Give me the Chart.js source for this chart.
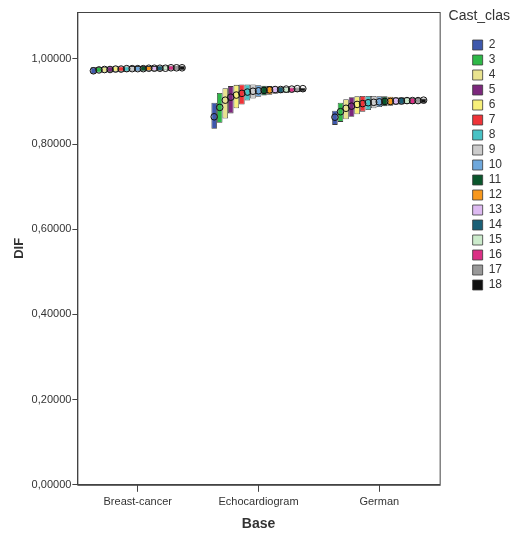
<!DOCTYPE html>
<html lang="en">
<head>
    <meta charset="UTF-8">
    <title>DIF by Base</title>
    <script src="https://cdn.jsdelivr.net/npm/chart.js"></script>
    <style>
        body { margin: 0; background: #fff; }
        #wrap { width: 512px; height: 533px; }
    </style>
</head>
<body>
    <div id="wrap"><canvas id="difChart"></canvas></div>

    <script>
        // categories and classes
        const bases = ['Breast-cancer', 'Echocardiogram', 'German'];
        const classes = ['2','3','4','5','6','7','8','9','10','11','12','13','14','15','16','17','18'];
        const classColors = ['#3E58AC','#2EB848','#E9E38F','#7C287D','#F7F07A','#EF3338','#48C2C5','#CCCCCC',
                             '#6FA8DC','#0A562C','#F8981D','#DDBAF1','#1A5F76','#CCEBCC','#DB2F85','#999999','#111111'];
        const legendTitle = 'Cast_clas';

        // box bottom / top / circle value per class, one set per base
        const breastLow  = [0.965,0.968,0.968,0.969,0.970,0.970,0.970,0.971,0.971,0.971,0.972,0.972,0.972,0.973,0.973,0.973,0.974];
        const breastHigh = [0.980,0.981,0.981,0.982,0.982,0.982,0.982,0.983,0.983,0.983,0.983,0.983,0.984,0.984,0.984,0.984,0.984];
        const breastMid  = [0.972,0.974,0.975,0.975,0.976,0.976,0.977,0.977,0.977,0.977,0.978,0.978,0.978,0.978,0.979,0.979,0.979];

        const echoLow  = [0.836,0.850,0.860,0.872,0.884,0.893,0.902,0.907,0.911,0.914,0.916,0.918,0.919,0.920,0.921,0.922,0.923];
        const echoHigh = [0.897,0.920,0.931,0.936,0.939,0.940,0.940,0.940,0.938,0.937,0.936,0.935,0.934,0.934,0.933,0.933,0.932];
        const echoMid  = [0.864,0.886,0.903,0.910,0.915,0.919,0.922,0.924,0.925,0.926,0.927,0.928,0.928,0.929,0.929,0.930,0.930];

        const germanLow  = [0.845,0.852,0.858,0.864,0.870,0.876,0.880,0.884,0.887,0.889,0.890,0.892,0.893,0.894,0.894,0.895,0.896];
        const germanHigh = [0.878,0.897,0.905,0.910,0.912,0.913,0.913,0.913,0.912,0.912,0.911,0.910,0.910,0.909,0.908,0.908,0.907];
        const germanMid  = [0.863,0.876,0.884,0.889,0.893,0.895,0.897,0.898,0.899,0.900,0.900,0.901,0.901,0.902,0.902,0.902,0.903];

        const yTicks = [0, 0.2, 0.4, 0.6, 0.8, 1.0];

        const FONT = 'Liberation Sans, Arial, sans-serif';

        const datasets = classes.map((c, i) => ({
            label: c,
            data: [
                [breastLow[i], breastHigh[i]],
                [echoLow[i], echoHigh[i]],
                [germanLow[i], germanHigh[i]]
            ],
            mids: [breastMid[i], echoMid[i], germanMid[i]],
            backgroundColor: classColors[i],
            borderColor: '#3a3a3a',
            borderWidth: 0.8,
            borderSkipped: false,
            categoryPercentage: 0.78,
            barPercentage: 1.0
        }));

        // circles on each box, frame round the plot, legend heading
        const overlay = {
            id: 'overlay',
            afterLayout(chart) {
                // gap between plot frame and legend, room for the heading
                const lg = chart.legend;
                lg.left += 30;
                lg.right += 30;
                lg.top += 24;
                lg.bottom += 24;
            },
            afterDatasetsDraw(chart) {
                const ctx = chart.ctx;
                const y = chart.scales.y;
                ctx.save();
                ctx.strokeStyle = '#111';
                ctx.lineWidth = 1;
                chart.data.datasets.forEach((ds, i) => {
                    chart.getDatasetMeta(i).data.forEach((bar, j) => {
                        ctx.beginPath();
                        ctx.arc(bar.x, y.getPixelForValue(ds.mids[j]), 3.3, 0, Math.PI * 2);
                        ctx.stroke();
                    });
                });
                const a = chart.chartArea;
                ctx.strokeStyle = '#444';
                ctx.strokeRect(a.left + 0.5, a.top + 0.5, a.width, a.height);
                ctx.restore();
            },
            afterDraw(chart) {
                const ctx = chart.ctx;
                ctx.save();
                ctx.font = '14px ' + FONT;
                ctx.fillStyle = '#333';
                ctx.textAlign = 'right';
                ctx.textBaseline = 'middle';
                ctx.fillText(legendTitle, chart.width - 2, 16);
                ctx.restore();
            }
        };

        new Chart(document.getElementById('difChart'), {
            type: 'bar',
            data: { labels: bases, datasets },
            plugins: [overlay],
            options: {
                responsive: true,
                maintainAspectRatio: false,
                animation: false,
                layout: { padding: { left: 8, top: 12, right: 30, bottom: -2 } },
                plugins: {
                    tooltip: { enabled: false },
                    legend: {
                        position: 'right',
                        align: 'start',
                        labels: {
                            boxWidth: 10,
                            boxHeight: 10,
                            padding: 3,
                            color: '#333',
                            font: { family: FONT, size: 12 }
                        }
                    }
                },
                scales: {
                    x: {
                        grid: { display: true, drawOnChartArea: false, offset: false, tickLength: 7, color: '#444' },
                        border: { display: true, color: '#444' },
                        ticks: { color: '#333', font: { family: FONT, size: 11 }, padding: 4 },
                        title: { display: true, text: 'Base', color: '#333', font: { family: FONT, size: 14, weight: 'bold', lineHeight: 1 }, padding: { top: 4 } }
                    },
                    y: {
                        min: 0,
                        max: 1.11,
                        afterBuildTicks(scale) { scale.ticks = yTicks.map(v => ({ value: v })); },
                        grid: { display: true, drawOnChartArea: false, tickLength: 5, color: '#444' },
                        border: { display: true, color: '#444' },
                        ticks: {
                            color: '#333',
                            font: { family: FONT, size: 11 },
                            padding: 1,
                            callback: v => v.toFixed(5).replace('.', ',')
                        },
                        title: { display: true, text: 'DIF', color: '#333', font: { family: FONT, size: 13, weight: 'bold' }, padding: { bottom: 3 } }
                    }
                }
            }
        });
    </script>
</body>
</html>
